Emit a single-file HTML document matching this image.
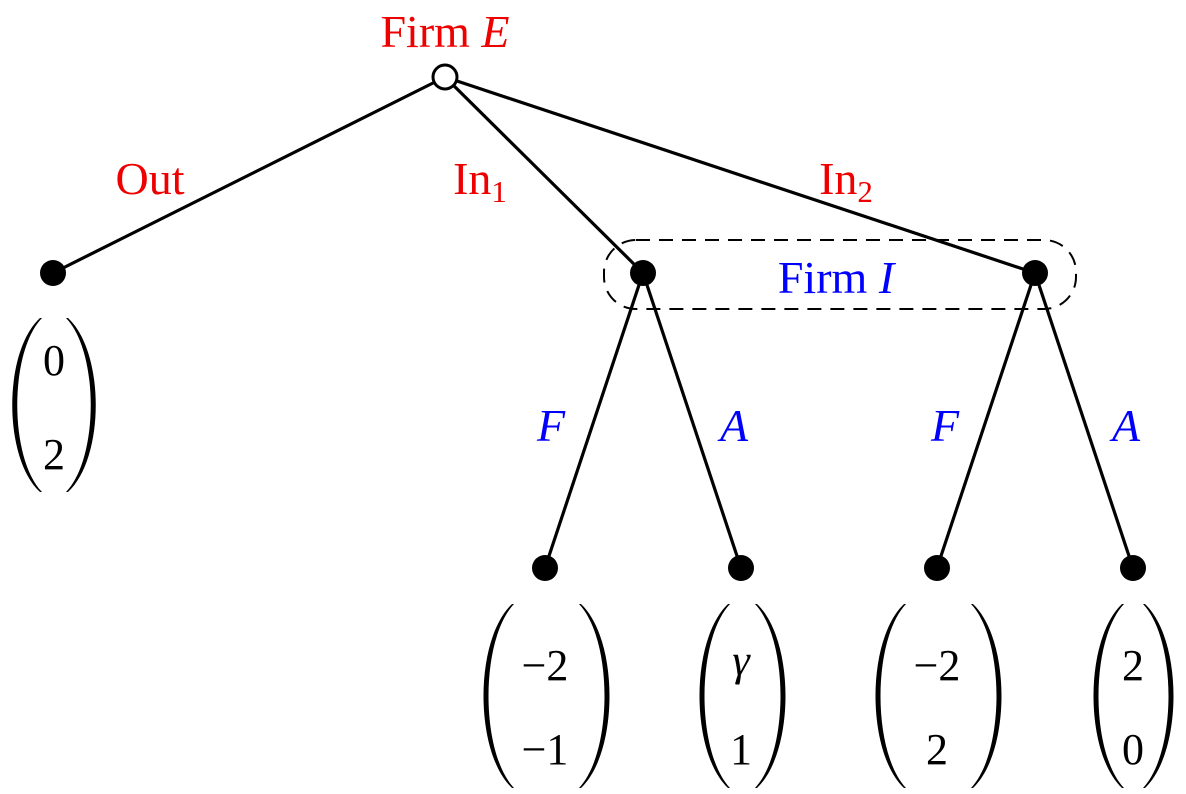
<!DOCTYPE html>
<html><head><meta charset="utf-8"><style>
html,body{margin:0;padding:0;background:#fff;}
svg{display:block;}
text{font-family:"Liberation Serif","Times New Roman","DejaVu Serif",serif;}
</style></head><body>
<svg width="1186" height="794" viewBox="0 0 1186 794" font-family="Liberation Serif, DejaVu Serif, serif">
<g stroke="#000" stroke-width="3.2" fill="none">
<line x1="445" y1="77" x2="53" y2="273"/>
<line x1="445" y1="77" x2="643" y2="273"/>
<line x1="445" y1="77" x2="1035" y2="273"/>
<line x1="643" y1="273" x2="545" y2="568"/>
<line x1="643" y1="273" x2="741" y2="568"/>
<line x1="1035" y1="273" x2="937" y2="568"/>
<line x1="1035" y1="273" x2="1133" y2="568"/>
</g>
<rect x="604" y="240" width="472" height="69" rx="32" ry="32" fill="none" stroke="#000" stroke-width="2" stroke-dasharray="14,9"/>
<circle cx="445" cy="77" r="12" fill="#fff" stroke="#000" stroke-width="3"/>
<g fill="#000">
<circle cx="53" cy="273" r="13"/>
<circle cx="643" cy="273" r="13"/>
<circle cx="1035" cy="273" r="13"/>
<circle cx="545" cy="568" r="13"/>
<circle cx="741" cy="568" r="13"/>
<circle cx="937" cy="568" r="13"/>
<circle cx="1133" cy="568" r="13"/>
</g>
<g font-size="46" fill="#e00" text-anchor="middle">
<text x="445" y="47">Firm <tspan font-style="italic">E</tspan></text>
<text x="150" y="194">Out</text>
<text x="480" y="194">In<tspan font-size="31" dy="8">1</tspan></text>
<text x="846" y="194">In<tspan font-size="31" dy="8">2</tspan></text>
</g>
<g font-size="46" fill="#00f" text-anchor="middle">
<text x="836" y="293">Firm <tspan font-style="italic">I</tspan></text>
<text x="551" y="441" font-style="italic">F</text>
<text x="734" y="441" font-style="italic">A</text>
<text x="945" y="441" font-style="italic">F</text>
<text x="1126" y="441" font-style="italic">A</text>
</g>
<g fill="#000">
<path d="M40 318 C3 352 3 458 40 492 L42 492 C9 458 9 352 42 318 Z"/>
<path d="M68 318 C105 352 105 458 68 492 L66 492 C99 458 99 352 66 318 Z"/>
<path d="M512 604 C474 640 474 752 512 788 L514 788 C480 752 480 640 514 604 Z"/>
<path d="M581 604 C619 640 619 752 581 788 L579 788 C613 752 613 640 579 604 Z"/>
<path d="M728 604 C690 640 690 752 728 788 L730 788 C696 752 696 640 730 604 Z"/>
<path d="M757 604 C795 640 795 752 757 788 L755 788 C789 752 789 640 755 604 Z"/>
<path d="M904 604 C866 640 866 752 904 788 L906 788 C872 752 872 640 906 604 Z"/>
<path d="M973 604 C1011 640 1011 752 973 788 L971 788 C1005 752 1005 640 971 604 Z"/>
<path d="M1122 604 C1084 640 1084 752 1122 788 L1124 788 C1090 752 1090 640 1124 604 Z"/>
<path d="M1145 604 C1183 640 1183 752 1145 788 L1143 788 C1177 752 1177 640 1143 604 Z"/>
</g>
<g font-size="44" fill="#000" text-anchor="middle">
<text x="54" y="375">0</text>
<text x="54" y="469">2</text>
<text x="545" y="680">−2</text>
<text x="545" y="764">−1</text>
<text x="741" y="675" font-style="italic">γ</text>
<text x="741" y="764">1</text>
<text x="937" y="680">−2</text>
<text x="937" y="764">2</text>
<text x="1133" y="680">2</text>
<text x="1133" y="764">0</text>
</g>
</svg>
</body></html>
